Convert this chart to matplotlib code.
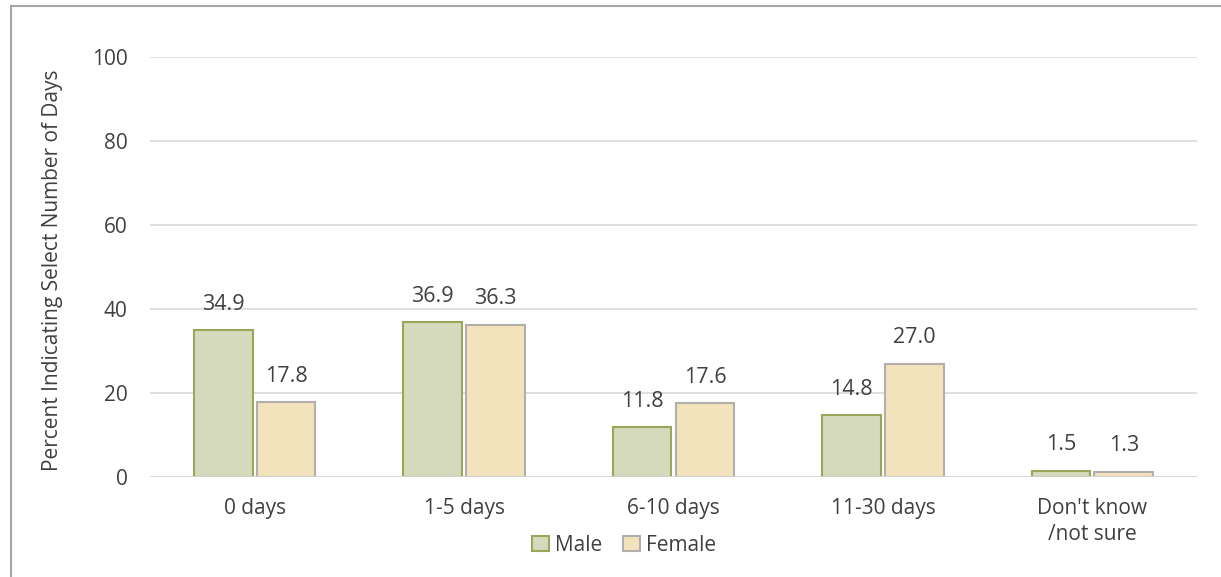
import matplotlib
matplotlib.use("Agg")
import matplotlib.pyplot as plt
import numpy as np
from matplotlib.lines import Line2D
from matplotlib.patches import Patch

categories = ["0 days", "1-5 days", "6-10 days", "11-30 days", "Don't know\n/not sure"]
male = [34.9, 36.9, 11.8, 14.8, 1.5]
female = [17.8, 36.3, 17.6, 27.0, 1.3]
series_names = ["Male", "Female"]
y_ticks = [0, 20, 40, 60, 80, 100]

plt.rcParams["font.family"] = ["Open Sans", "DejaVu Sans"]
text_color = "#404040"

fig = plt.figure(figsize=(12.21, 5.77), dpi=100)
ax = fig.add_axes([150 / 1221, 1 - 477 / 577, 1047 / 1221, 420 / 577])

x = np.arange(len(categories))
width = 0.28
offset = 0.15

male_bars = ax.bar(x - offset, male, width, color="#D5DABC", edgecolor="#9AA65A",
                   linewidth=1.5, zorder=3)
female_bars = ax.bar(x + offset, female, width, color="#F2E3BC", edgecolor="#B2AFAA",
                     linewidth=1.5, zorder=3)

for bars, vals in ((male_bars, male), (female_bars, female)):
    for b, v in zip(bars, vals):
        ax.annotate(f"{v:.1f}", (b.get_x() + b.get_width() / 2, v),
                    xytext=(0, 11), textcoords="offset points",
                    ha="center", va="bottom", fontsize=15.5, color=text_color)

ax.set_xlim(-0.5, len(categories) - 0.5)
ax.set_ylim(0, 100)
ax.set_yticks(y_ticks)
ax.set_xticks(x)
ax.set_xticklabels(categories, linespacing=1.3)
ax.tick_params(axis="both", length=0, labelsize=15, labelcolor=text_color)
ax.tick_params(axis="x", pad=15)
ax.tick_params(axis="y", pad=16)
ax.grid(axis="y", color="#D9D9D9", linewidth=1.2, zorder=0)
for s in ax.spines.values():
    s.set_visible(False)
ax.axhline(0, color="#D9D9D9", linewidth=1.2, zorder=4)

ax.set_ylabel("Percent Indicating Select Number of Days", fontsize=15,
              color=text_color)
ax.yaxis.set_label_coords(63 / 1221, 1 - 270 / 577, transform=fig.transFigure)

handles = [
    Patch(facecolor="#D5DABC", edgecolor="#9AA65A", linewidth=1.5),
    Patch(facecolor="#F2E3BC", edgecolor="#B2AFAA", linewidth=1.5),
]
leg = fig.legend(handles, series_names, loc="center", bbox_to_anchor=(0.511, 0.055),
                 ncol=2, frameon=False, fontsize=15, handlelength=0.8, handleheight=0.8,
                 handletextpad=0.3, columnspacing=1.0)
for t in leg.get_texts():
    t.set_color(text_color)

# outer chart border (only top and left are in frame)
fig.add_artist(Line2D([10.5 / 1221, 1], [1 - 6 / 577, 1 - 6 / 577], color="#A6A6A6", linewidth=1.5))
fig.add_artist(Line2D([10.5 / 1221, 10.5 / 1221], [0, 1 - 6 / 577], color="#A6A6A6", linewidth=1.5))

fig.savefig("out.png", dpi=100)
